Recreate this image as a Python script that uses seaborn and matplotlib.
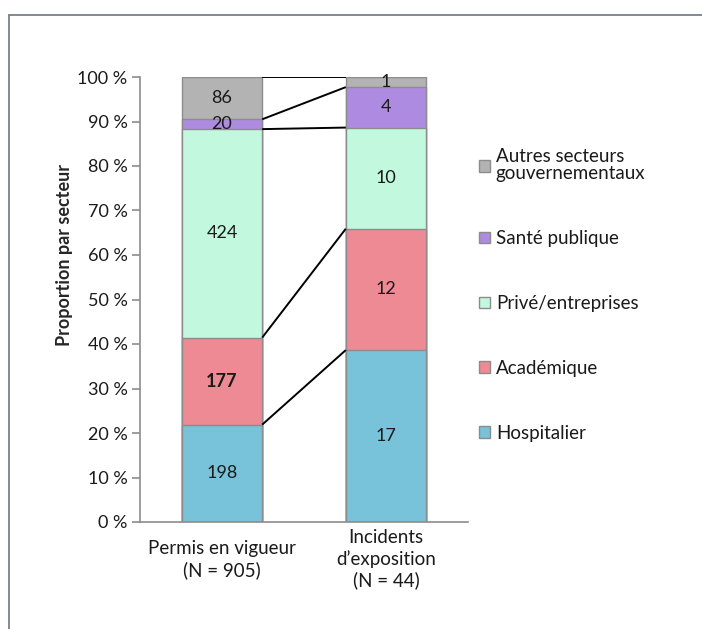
import numpy as np
import pandas as pd
import matplotlib
matplotlib.use("Agg")
import matplotlib.pyplot as plt
from matplotlib.lines import Line2D
from matplotlib.patches import Patch
import seaborn as sns

# Data: counts per sector for each group
groups = ["Permis en vigueur\n(N = 905)", "Incidents\nd\u2019exposition\n(N = 44)"]
sectors = ["Hospitalier", "Académique", "Privé/entreprises", "Santé publique",
           "Autres secteurs\ngouvernementaux"]
hospitalier = [198, 17]
academique = [177, 12]
prive = [424, 10]
sante = [20, 4]
autres = [86, 1]
colors = ["#78C2DA", "#EE8A94", "#C2F8DE", "#AD8BE0", "#B3B3B3"]
bold_labels = {("Académique", 0)}

sns.set_style("white")
plt.rcParams["font.family"] = ["Lato", "DejaVu Sans"]
FS = 13
FS_TXT = 13.5
plt.rcParams["font.size"] = FS

counts = np.array([hospitalier, academique, prive, sante, autres], dtype=float)
totals = counts.sum(axis=0)
shares = counts / totals
tops = np.cumsum(shares, axis=0)
bottoms = tops - shares

fig = plt.figure(figsize=(7.02, 6.29), dpi=100)
ax = fig.add_axes([140 / 702, 1 - 522 / 629, 328 / 702, 445 / 629])

edge = "#8C8C8C"
bar_w = 0.49
# Stack by overdrawing cumulative totals, from the top layer downwards
for i in range(len(sectors) - 1, -1, -1):
    df = pd.DataFrame({"groupe": groups, "part": tops[i]})
    sns.barplot(data=df, x="groupe", y="part", order=groups, color=colors[i],
                edgecolor=edge, linewidth=1.0, width=bar_w, saturation=1,
                ax=ax, zorder=2)

# Series lines joining the segment boundaries of both bars
for i in range(len(sectors)):
    ax.plot([0 + bar_w / 2, 1 - bar_w / 2], [tops[i][0], tops[i][1]],
            color="black", lw=1.4, zorder=3, solid_capstyle="butt")

# Value labels centred in each segment
for i, name in enumerate(sectors):
    for j in range(len(groups)):
        mid = (bottoms[i][j] + tops[i][j]) / 2
        weight = "bold" if (name, j) in bold_labels else "normal"
        ax.text(j, mid, f"{int(counts[i][j])}", ha="center", va="center",
                fontsize=FS, fontweight=weight, color="#1a1a1a", zorder=4)

ax.set_ylim(0, 1)
ax.set_xlim(-0.5, 1.5)
yt = np.linspace(0, 1, 11)
ax.set_yticks(yt)
ax.set_yticklabels([f"{int(round(v * 100))} %" for v in yt])
ax.set_xlabel("")
ax.set_ylabel("Proportion par secteur", fontweight="bold", fontsize=FS)
ax.yaxis.set_label_coords(-0.205, 0.6)

for s in ["top", "right"]:
    ax.spines[s].set_visible(False)
for s in ["left", "bottom"]:
    ax.spines[s].set_color("#8C8C8C")
    ax.spines[s].set_linewidth(1.2)
ax.tick_params(axis="y", direction="out", length=6, width=1.2, color="#8C8C8C",
               pad=3, labelsize=FS, labelcolor="#1a1a1a", left=True)
ax.tick_params(axis="x", length=0, pad=27, labelsize=FS_TXT, labelcolor="#1a1a1a")
for lbl in ax.get_xticklabels():
    lbl.set_va("center")
    lbl.set_linespacing(1.25)

# Legend, top entry first
handles = [Patch(facecolor=colors[i], edgecolor=edge, label=sectors[i])
           for i in range(len(sectors) - 1, -1, -1)]
leg = fig.legend(handles=handles, loc="upper left",
                 bbox_to_anchor=(470 / 702, 1 - 139 / 629),
                 frameon=False, fontsize=FS_TXT, handlelength=0.58,
                 handleheight=0.58, handletextpad=0.3, labelspacing=2.55,
                 borderpad=0)
for t in leg.get_texts():
    t.set_linespacing(1.0)
    t.set_color("#1a1a1a")

# Outer frame
frame_c = "#7A8088"
fig.add_artist(Line2D([9 / 702, 1], [1 - 15 / 629, 1 - 15 / 629],
                      transform=fig.transFigure, color=frame_c, lw=1.3))
fig.add_artist(Line2D([9 / 702, 9 / 702], [0, 1 - 15 / 629],
                      transform=fig.transFigure, color=frame_c, lw=1.3))

fig.savefig("out.png", dpi=100, facecolor="white")
